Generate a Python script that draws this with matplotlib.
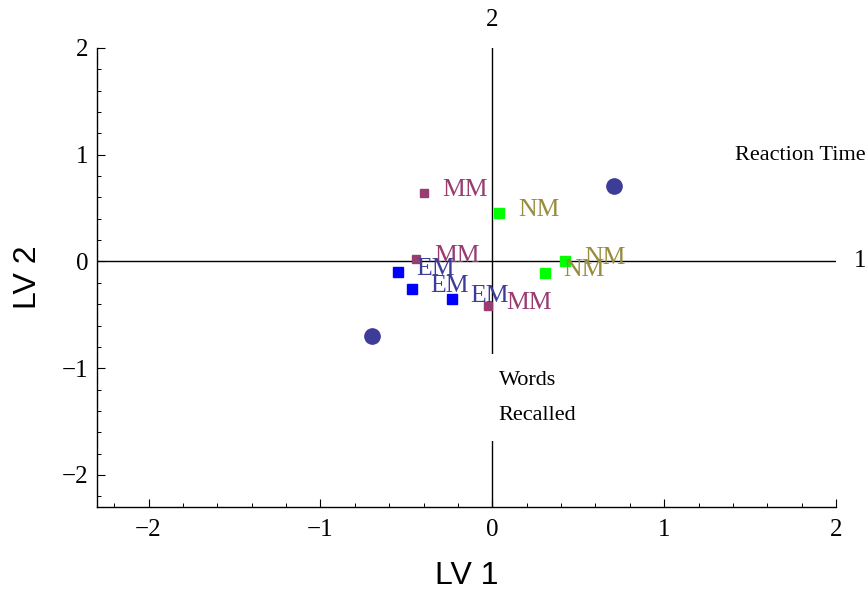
import matplotlib
matplotlib.use("Agg")
import matplotlib.pyplot as plt
from matplotlib.ticker import MultipleLocator

# ---- data ----
circle_x = [0.71, -0.70]
circle_y = [0.71, -0.70]

mm_x = [-0.40, -0.445, -0.025]
mm_y = [0.64, 0.02, -0.42]
em_x = [-0.55, -0.47, -0.235]
em_y = [-0.10, -0.255, -0.35]
nm_x = [0.04, 0.305, 0.425]
nm_y = [0.455, -0.105, 0.005]

xticks = [-2, -1, 0, 1, 2]
yticks = [-2, -1, 0, 1, 2]

C1 = "#3D3D99"
C2 = "#993D71"
C3 = "#998C3D"

serif = ["Liberation Serif", "DejaVu Serif"]
sans = ["Liberation Sans", "DejaVu Sans"]

fig = plt.figure(figsize=(8.65, 5.90), dpi=100)
ax = fig.add_axes([97/865, 1-507/590, (836-97)/865, (507-48)/590])
ax.set_xlim(-2.3, 2.0)
ax.set_ylim(-2.3, 2.0)

for s in ["top", "right"]:
    ax.spines[s].set_visible(False)
for s in ["left", "bottom"]:
    ax.spines[s].set_linewidth(1.0)

ax.set_xticks(xticks)
ax.set_yticks(yticks)
ax.xaxis.set_minor_locator(MultipleLocator(0.2))
ax.yaxis.set_minor_locator(MultipleLocator(0.2))
ax.tick_params(which="major", direction="in", length=6, width=0.8, pad=6,
               labelsize=18)
ax.tick_params(axis="x", which="major", pad=9)
ax.tick_params(which="minor", direction="in", length=3.2, width=0.7)
for lab in ax.get_xticklabels() + ax.get_yticklabels():
    lab.set_family(serif)

# axes through origin
ax.axhline(0, color="black", lw=1.0, zorder=1)
ax.axvline(0, color="black", lw=1.0, zorder=1)

# points
ax.plot(circle_x, circle_y, "o", color=C1, ms=11, zorder=3)
ax.plot(mm_x, mm_y, "s", color=C2, ms=6.3, zorder=3)
ax.plot(em_x, em_y, "s", color="#0000FF", ms=7.7, zorder=3)
ax.plot(nm_x, nm_y, "s", color="#00FF00", ms=7.7, zorder=3)

def labels(xs, ys, txt, col):
    for x, y in zip(xs, ys):
        ax.annotate(txt, (x, y), xytext=(13.5, 2.3), textcoords="offset points",
                    ha="left", va="center", fontsize=18.5, color=col,
                    family=serif, zorder=4, annotation_clip=False)

labels(mm_x, mm_y, "MM", C2)
labels(em_x, em_y, "EM", C1)
labels(nm_x, nm_y, "NM", C3)

# variable labels
ax.text(1.41, 0.99, "Reaction Time", ha="left", va="center", fontsize=16,
        family=serif, clip_on=False, zorder=5)
ax.text(0.038, -1.275, "Words\nRecalled", ha="left", va="center", fontsize=16,
        family=serif, linespacing=2.15, zorder=5,
        bbox=dict(facecolor="white", edgecolor="none", pad=12))

# axis-line labels
ax.annotate("2", (0, 1.0), xycoords=("data", "axes fraction"),
            xytext=(0, 20), textcoords="offset points", ha="center",
            va="center", fontsize=18, family=serif, annotation_clip=False)
ax.annotate("1", (1.0, 0), xycoords=("axes fraction", "data"),
            xytext=(17, 0), textcoords="offset points", ha="center",
            va="center", fontsize=18, family=serif, annotation_clip=False)

ax.set_xlabel("LV 1", fontsize=23, family=sans, labelpad=14)
ax.set_ylabel("LV 2", fontsize=23, family=sans, labelpad=14)

fig.savefig("out.png", dpi=100)
